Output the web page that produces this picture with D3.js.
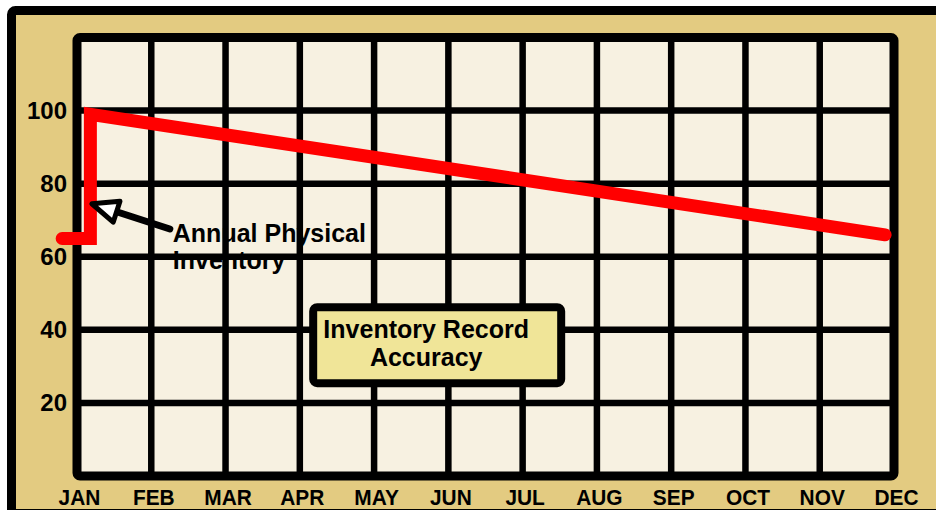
<!DOCTYPE html>
<html>
<head>
<meta charset="utf-8">
<script src="https://cdn.jsdelivr.net/npm/d3@7"></script>
<style>
body { margin: 0; background: #fff; }
text { font-family: "Liberation Sans", Arial, sans-serif; font-weight: bold; fill: #000; }
</style>
</head>
<body>
<svg id="chart" width="936" height="510"></svg>
<script>
var months = ["JAN", "FEB", "MAR", "APR", "MAY", "JUN", "JUL", "AUG", "SEP", "OCT", "NOV", "DEC"];
var yTicks = [20, 40, 60, 80, 100];

// record accuracy line: month index (0 = JAN) and percent
var accMonth = [-0.2, 0.18, 0.18, 10.88];
var accValue = [65, 65, 99, 66];

var noteLines = ["Annual Physical", "Inventory"];
var titleLines = ["Inventory Record", "Accuracy"];

var svg = d3.select("#chart");

var margin = {top: 37.5, right: 42, bottom: 34, left: 77};
var width = 936 - margin.left - margin.right;
var height = 510 - margin.top - margin.bottom;

// tan outer frame, runs off the right and bottom edge
svg.append("rect")
    .attr("x", 11.5)
    .attr("y", 10.5)
    .attr("width", 960)
    .attr("height", 503)
    .attr("rx", 4)
    .attr("fill", "#E3CB81")
    .attr("stroke", "#000")
    .attr("stroke-width", 9);

var g = svg.append("g")
    .attr("transform", "translate(" + margin.left + "," + margin.top + ")");

var x = d3.scaleLinear().domain([0, months.length - 1]).range([0, width]);
var y = d3.scaleLinear().domain([0, 120]).range([height, 0]);

g.append("rect")
    .attr("width", width)
    .attr("height", height)
    .attr("fill", "#F7F1E1");

// annotation text sits under the grid
var note = g.append("text")
    .attr("font-size", 25);
note.selectAll("tspan")
    .data(noteLines)
    .enter()
    .append("tspan")
    .attr("x", x(1.29))
    .attr("y", function(d, i) { return y(64) + i * 27; })
    .text(function(d) { return d; });

// grid
g.selectAll(".vgrid")
    .data(d3.range(1, months.length - 1))
    .enter()
    .append("line")
    .attr("class", "vgrid")
    .attr("x1", function(d) { return x(d); })
    .attr("x2", function(d) { return x(d); })
    .attr("y1", 0)
    .attr("y2", height)
    .attr("stroke", "#000")
    .attr("stroke-width", 6.5);

g.selectAll(".hgrid")
    .data(yTicks)
    .enter()
    .append("line")
    .attr("class", "hgrid")
    .attr("x1", 0)
    .attr("x2", width)
    .attr("y1", function(d) { return y(d); })
    .attr("y2", function(d) { return y(d); })
    .attr("stroke", "#000")
    .attr("stroke-width", 6.5);

g.append("rect")
    .attr("width", width)
    .attr("height", height)
    .attr("rx", 3)
    .attr("fill", "none")
    .attr("stroke", "#000")
    .attr("stroke-width", 9);

// axes
var yAxis = g.append("g")
    .call(d3.axisLeft(y).tickValues(yTicks).tickSize(0).tickPadding(10));
yAxis.select(".domain").remove();
yAxis.selectAll("text")
    .style("font-size", "24px")
    .attr("dy", "0.33em");

var xAxis = g.append("g")
    .attr("transform", "translate(2," + height + ")")
    .call(d3.axisBottom(x)
        .tickValues(d3.range(months.length))
        .tickFormat(function(i) { return months[i]; })
        .tickSize(0));
xAxis.select(".domain").remove();
xAxis.selectAll("text")
    .style("font-size", "22px")
    .attr("y", 29)
    .attr("dy", 0)
    .attr("transform", "scale(0.95,1)");

// red accuracy line
var accData = accMonth.map(function(m, i) { return [m, accValue[i]]; });
var accLine = d3.line()
    .x(function(d) { return x(d[0]); })
    .y(function(d) { return y(d[1]); });

g.append("path")
    .datum(accData)
    .attr("d", accLine)
    .attr("fill", "none")
    .attr("stroke", "#FF0000")
    .attr("stroke-width", 13)
    .attr("stroke-linejoin", "miter")
    .attr("stroke-linecap", "round");

// arrow pointing at the physical count
var tip = [x(0.2), y(74.5)];
var tail = [x(1.25), y(67.6)];
var dx = tip[0] - tail[0], dy = tip[1] - tail[1];
var len = Math.sqrt(dx * dx + dy * dy);
var ux = dx / len, uy = dy / len;
var headLen = 26, headHalf = 11;
var base = [tip[0] - ux * headLen, tip[1] - uy * headLen];

g.append("line")
    .attr("x1", tail[0])
    .attr("y1", tail[1])
    .attr("x2", base[0])
    .attr("y2", base[1])
    .attr("stroke", "#000")
    .attr("stroke-width", 7)
    .attr("stroke-linecap", "round");

g.append("polygon")
    .attr("points", [
        tip,
        [base[0] - uy * headHalf, base[1] + ux * headHalf],
        [base[0] + uy * headHalf, base[1] - ux * headHalf]
    ].map(function(p) { return p.join(","); }).join(" "))
    .attr("fill", "#fff")
    .attr("stroke", "#000")
    .attr("stroke-width", 5)
    .attr("stroke-linejoin", "round");

// title box
var box = g.append("g")
    .attr("transform", "translate(" + x(3.18) + "," + y(46.2) + ")");
box.append("rect")
    .attr("width", 248)
    .attr("height", 76)
    .attr("rx", 4)
    .attr("fill", "#F0E598")
    .attr("stroke", "#000")
    .attr("stroke-width", 8);
box.selectAll(".title")
    .data(titleLines)
    .enter()
    .append("text")
    .attr("class", "title")
    .attr("x", 113)
    .attr("y", function(d, i) { return 31 + i * 28; })
    .attr("text-anchor", "middle")
    .attr("font-size", 25)
    .text(function(d) { return d; });
</script>
</body>
</html>
